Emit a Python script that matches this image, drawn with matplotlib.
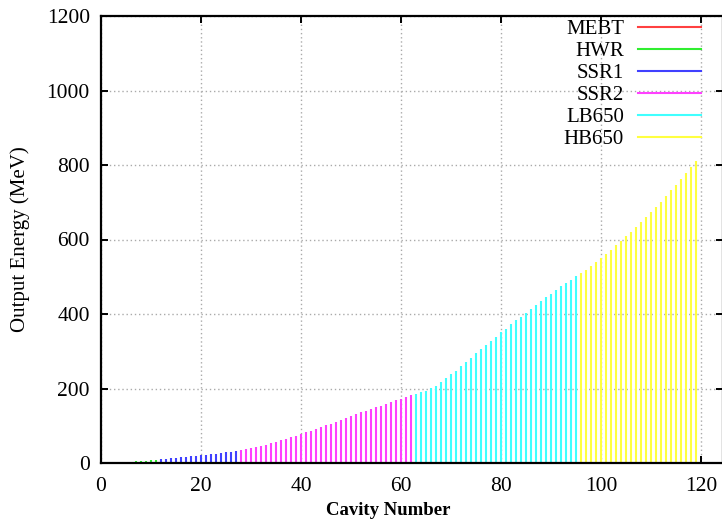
import matplotlib
matplotlib.use('Agg')
import matplotlib.pyplot as plt
from matplotlib.lines import Line2D

plt.rcParams['font.family'] = ['Liberation Serif', 'DejaVu Serif']

# output energy per cavity, grouped by section (MeV)
mebt_cav = [1, 2, 3]
mebt_energy = [2.1, 2.1, 2.1]

hwr_cav = list(range(4, 12))
hwr_energy = [2.3, 2.7, 3.3, 4.1, 5.1, 6.3, 7.6, 9.0]

ssr1_cav = list(range(12, 28))
ssr1_energy = [10.8, 11.9, 13.0, 14.2, 15.4, 16.7, 18.0, 19.4,
               20.8, 22.3, 23.8, 25.4, 27.0, 28.7, 30.4, 32.2]

ssr2_cav = list(range(28, 63))
ssr2_energy = [34, 36.7, 39.4, 43, 46, 49.5, 53, 57, 60.5, 64,
               69, 73, 78, 83, 87, 92, 96, 101, 105.5, 111,
               116, 121, 126, 131, 136, 140, 145, 150, 154, 159,
               164, 169, 173, 178, 182]

lb650_cav = list(range(63, 96))
lb650_energy = [186.5, 191, 194.6, 201, 207, 217, 227, 238, 248, 260,
                271, 283, 294, 305, 317, 327, 339, 352, 361, 372,
                383, 393, 404, 414, 424, 435, 445, 454, 464, 474,
                483, 492, 501]

hb650_cav = list(range(96, 120))
hb650_energy = [510, 519, 529, 539, 550, 561, 573, 586, 597, 609,
                621, 634, 647, 661, 674, 688, 701, 716, 732, 747,
                762, 778, 794, 812]

sections = [
    ('MEBT', mebt_cav, mebt_energy, '#ff4040'),
    ('HWR', hwr_cav, hwr_energy, '#30ee30'),
    ('SSR1', ssr1_cav, ssr1_energy, '#4040ff'),
    ('SSR2', ssr2_cav, ssr2_energy, '#ff40ff'),
    ('LB650', lb650_cav, lb650_energy, '#40ffff'),
    ('HB650', hb650_cav, hb650_energy, '#ffff40'),
]

fig = plt.figure(figsize=(7.22, 5.21), dpi=100)
ax = fig.add_axes([101 / 722, 58 / 521, 621.5 / 722, 447 / 521])

handles = []
for name, cav, energy, color in sections:
    ax.vlines(cav, 0, energy, colors=color, linewidth=1.5, zorder=2)
    handles.append(Line2D([], [], color=color, linewidth=1.5, label=name))

ax.set_xlim(0, 124.3)
ax.set_ylim(0, 1200)
ax.set_xticks(range(0, 121, 20))
ax.set_yticks(range(0, 1201, 200))

ax.grid(True, color='#aaaaaa', linestyle=(0, (1, 2)), linewidth=1.0, zorder=0)
ax.set_axisbelow(True)

for side in ax.spines.values():
    side.set_linewidth(1.6)
    side.set_zorder(3)

ax.tick_params(direction='in', length=5, width=1.4, top=True, right=True,
               labelsize=15.5)
ax.tick_params(axis='x', pad=10)
ax.tick_params(axis='y', pad=8)

ax.set_ylabel('Output Energy (MeV)', fontsize=15)
ax.yaxis.set_label_coords(-0.1145, 0.5)
ax.set_xlabel('Cavity Number', fontsize=13.5, fontweight='bold')
ax.xaxis.set_label_coords((388 - 101) / 621.5, -0.087)

leg = ax.legend(handles=handles, loc='upper right', bbox_to_anchor=(0.9855, 1.02),
                frameon=False, markerfirst=False, fontsize=15,
                handlelength=3.0, handletextpad=0.7, labelspacing=0.115,
                borderaxespad=0.2)

fig.savefig('out.png', dpi=100)
